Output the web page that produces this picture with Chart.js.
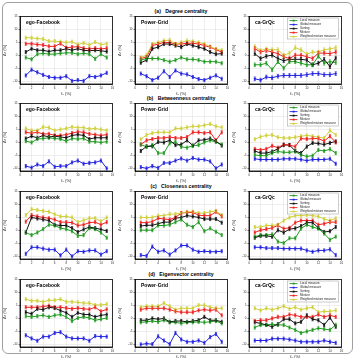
<!DOCTYPE html>
<html><head><meta charset="utf-8">
<script src="https://cdn.jsdelivr.net/npm/chart.js@4.4.1/dist/chart.umd.min.js"></script>
<style>
html,body{margin:0;padding:0;background:#fff}
body{width:357px;height:358px;position:relative;overflow:hidden;font-family:"Liberation Sans",Arial,sans-serif}
#frame{position:absolute;left:2px;top:2px;width:351px;height:352px;border:1px solid #a0a0a0;border-radius:6px;box-sizing:border-box}
.rt{position:absolute;width:200px;text-align:center;font-weight:bold;font-size:5.2px;color:#000;white-space:pre}
.pn{position:absolute;font-weight:bold;font-size:5px;color:#000;white-space:nowrap}
canvas{position:absolute}
</style></head><body>
<div id="frame"></div>
<script>
// ---------- shared labels / ticks ----------
const fValues = [1,2,3,4,5,6,7,8,9,10,11,12,13,14,15];
const xTicks = [0,2,4,6,8,10,12,14,16];
const yTicks = [-10,-5,0,5,10,15];
const seriesNames = ['Local measure','Global measure','Sorting','Mixture','Weighted mixture measure'];
const panelNames = ['ego-Facebook','Power-Grid','ca-GrQc'];
const rowTitles = ['(a)   Degree centrality','(b)   Betweenness centrality','(c)   Closeness centrality','(d)   Eigenvector centrality'];
const xTitle = 'f\u2080 (%)';
const yTitle = '\u0394r (%)';

// ---------- (a) Degree centrality ----------
const a1Local  = [-0.8,-1.5,0.5,0.8,0.5,0.5,0.8,1.0,1.0,0.5,0.8,0.5,-1.3,0.5,-0.8];
const a1Global = [-7.7,-5.5,-6.5,-7.5,-8.3,-8.6,-8.6,-8.0,-9.8,-9.5,-9.8,-8.0,-8.3,-7.7,-6.7];
const a1Sort   = [1.3,2.6,2.0,2.0,1.5,2.0,2.0,2.6,2.0,2.6,2.0,1.8,2.0,1.8,1.5];
const a1Mix    = [4.5,4.5,4.2,4.0,3.5,3.5,4.6,3.0,3.2,3.4,2.8,2.5,2.8,2.5,2.8];
const a1WMix   = [6.8,6.8,6.5,6.3,5.5,5.5,5.3,5.0,5.3,4.2,4.8,4.0,5.2,4.2,4.5];

const a2Local  = [-1.8,-1.2,-1.2,-1.2,-1.8,-2.4,-1.8,-0.8,-1.5,-1.5,-1.8,-2.4,-2.4,-2.4,-3.0];
const a2Global = [-7.0,-8.0,-9.5,-8.6,-6.1,-8.3,-5.8,-7.0,-7.3,-8.3,-9.1,-9.5,-8.6,-7.7,-9.0];
const a2Sort   = [-2.8,-1.8,2.6,3.2,4.4,4.4,3.8,3.2,4.4,3.8,3.2,2.6,1.3,0.5,0.7];
const a2Mix    = [-1.2,-0.6,3.8,4.4,5.0,5.0,4.4,4.4,4.7,4.7,4.4,3.8,3.2,2.2,1.3];
const a2WMix   = [-0.8,0.1,4.4,5.0,5.7,5.9,4.4,5.0,5.7,5.4,5.0,4.4,3.4,2.5,2.0];

const a3Local  = [-3.6,-3.6,-3.0,-5.5,-2.4,-4.9,-2.4,-2.4,-3.0,-3.6,-3.6,-0.3,-3.0,-2.4,-2.7];
const a3Global = [-9.0,-9.5,-8.3,-8.6,-8.0,-7.7,-7.7,-7.7,-7.7,-7.4,-7.0,-7.0,-7.4,-7.4,-7.0];
const a3Sort   = [0.7,-1.2,-0.3,0.1,-1.2,-2.0,-1.5,-1.5,-1.5,-1.8,-3.6,-3.0,-1.5,-4.3,-1.0];
const a3Mix    = [2.6,1.3,1.9,1.3,0.7,-0.5,-1.2,0.1,0.1,-0.5,-1.2,0.9,0.9,0.7,1.3];
const a3WMix   = [3.4,1.9,2.5,2.2,2.2,0.1,0.9,3.0,2.2,0.5,1.3,1.3,2.2,2.5,3.0];

// ---------- (b) Betweenness centrality ----------
const b1Local  = [0.5,0.0,1.3,1.5,1.8,1.5,1.3,0.5,1.5,1.3,1.5,0.3,0.3,0.0,0.3];
const b1Global = [-9.1,-9.7,-8.5,-9.1,-7.3,-9.4,-9.1,-9.1,-7.7,-7.0,-8.2,-7.9,-7.7,-7.0,-10.0];
const b1Sort   = [1.5,2.4,1.8,2.7,2.1,2.4,2.1,1.8,2.7,3.0,2.7,1.3,1.8,1.8,1.8];
const b1Mix    = [3.9,3.6,3.9,3.3,3.3,2.7,2.7,3.0,3.6,4.1,3.9,3.3,3.0,2.7,3.0];
const b1WMix   = [5.4,4.6,4.6,6.0,5.7,4.6,5.0,5.4,6.0,5.7,5.7,5.2,5.4,5.0,4.6];

const b2Local  = [-0.8,-1.7,-1.0,-4.1,-4.1,-0.3,0.2,-1.7,-2.0,-1.3,-1.0,0.0,0.8,0.2,-0.8];
const b2Global = [-9.5,-10.0,-9.1,-9.8,-7.9,-7.9,-7.0,-6.2,-7.0,-6.0,-6.6,-6.6,-7.3,-10.0,-8.5];
const b2Sort   = [-3.3,-1.5,-1.5,0.2,0.0,0.8,-1.0,-0.8,0.8,-1.2,0.8,1.0,1.5,0.5,-1.2];
const b2Mix    = [-0.8,0.8,1.3,1.7,1.7,2.1,1.7,1.7,2.1,3.9,3.9,3.6,3.9,0.8,3.9];
const b2WMix   = [1.2,2.9,3.6,3.9,3.9,3.9,5.4,5.4,5.8,6.2,6.2,6.6,7.1,6.2,5.8];

const b3Local  = [-4.8,-5.1,-5.1,-4.1,-3.5,-3.8,-3.8,-3.5,-4.8,-5.4,-5.1,-2.9,-3.3,-2.6,-4.1];
const b3Global = [-6.3,-6.6,-6.6,-6.6,-6.6,-6.3,-6.3,-6.3,-6.6,-7.0,-6.6,-6.6,-6.6,-6.3,-8.2];
const b3Sort   = [-3.3,-4.1,-4.1,-3.5,-2.5,-1.0,-1.0,-3.3,-4.1,-1.6,-0.2,-0.4,-0.8,-0.2,0.4];
const b3Mix    = [-2.5,-2.9,-2.5,-1.3,-2.0,-0.8,-1.0,-1.6,1.5,1.3,1.5,1.5,0.5,2.4,0.0];
const b3WMix   = [1.2,2.2,2.7,2.9,2.0,1.7,1.7,2.0,2.4,2.7,2.4,2.0,1.7,4.6,2.9];

// ---------- (c) Closeness centrality ----------
const c1Local  = [-0.8,-1.8,-0.8,0.5,2.2,1.9,0.9,0.5,-0.3,-2.1,-1.8,0.9,0.5,-0.8,-2.8];
const c1Global = [-9.0,-6.5,-6.5,-7.0,-7.4,-7.4,-9.6,-7.4,-10.0,-8.0,-8.2,-7.7,-7.7,-9.3,-8.0];
const c1Sort   = [-0.8,5.0,4.6,4.2,3.8,2.2,1.9,1.9,0.9,-0.6,0.4,1.3,0.9,0.4,-0.2];
const c1Mix    = [3.4,5.9,5.4,5.0,4.7,4.2,3.2,3.2,3.0,1.9,2.2,3.0,3.2,2.2,3.2];
const c1WMix   = [5.9,8.2,7.9,7.5,7.2,6.2,5.4,5.4,5.0,3.2,3.9,4.7,4.7,3.5,5.0];

const c2Local  = [0.1,0.1,0.1,1.9,1.9,2.2,3.2,4.2,2.2,1.3,3.2,-0.3,0.8,-0.5,-1.8];
const c2Global = [-9.5,-9.8,-6.2,-8.2,-7.7,-9.3,-7.7,-5.8,-5.8,-7.4,-8.2,-8.0,-8.2,-8.2,-8.0];
const c2Sort   = [1.7,2.0,2.0,2.6,3.2,3.2,4.7,5.0,5.7,5.4,5.0,4.4,4.4,4.4,3.0];
const c2Mix    = [3.0,3.0,3.4,4.7,4.4,4.2,5.0,6.7,6.9,6.9,5.9,5.7,5.7,7.2,5.4];
const c2WMix   = [5.0,5.0,5.0,5.7,5.7,6.3,6.3,6.7,7.2,7.2,6.7,6.7,7.2,7.5,5.9];

const c3Local  = [-2.4,-1.8,-1.8,-1.5,-4.3,-4.9,-3.0,-3.0,0.7,2.2,1.3,0.7,-1.2,-3.6,-2.4];
const c3Global = [-6.5,-6.5,-6.8,-6.8,-6.8,-7.0,-7.0,-7.0,-7.0,-7.7,-8.2,-7.7,-7.7,-7.3,-9.5];
const c3Sort   = [-2.8,-2.1,-2.1,-2.4,0.1,-0.8,0.5,0.8,1.7,3.0,3.0,1.0,-0.6,-0.3,1.3];
const c3Mix    = [-0.8,0.1,0.5,1.0,1.9,0.7,1.0,3.0,3.8,3.8,3.8,2.2,2.6,3.2,3.2];
const c3WMix   = [1.3,1.3,1.9,1.9,2.2,3.8,5.0,5.7,5.7,6.0,5.7,5.4,4.4,3.8,4.6];

// ---------- (d) Eigenvector centrality ----------
const d1Local  = [0.9,0.6,0.9,1.2,0.6,1.2,1.5,0.6,-1.0,0.2,0.6,0.2,-0.7,-0.3,0.2];
const d1Global = [-6.5,-7.7,-8.6,-7.0,-7.0,-5.6,-5.3,-7.0,-7.7,-7.7,-7.7,-8.6,-6.8,-7.0,-7.0];
const d1Sort   = [2.4,1.8,3.7,3.4,4.3,4.0,3.0,2.2,0.6,2.2,1.5,1.5,0.6,1.2,1.5];
const d1Mix    = [4.3,4.3,4.3,4.6,4.9,4.3,4.3,4.0,3.7,4.0,3.7,3.5,4.3,2.7,3.5];
const d1WMix   = [7.4,6.8,6.8,6.4,7.0,7.0,7.4,6.4,6.4,6.2,5.9,5.9,5.2,5.2,5.5];

const d2Local  = [-1.5,-1.3,-1.0,-1.3,-0.7,-1.5,-1.5,-1.9,-1.5,-1.5,-1.3,-1.5,-1.3,-1.0,-1.9];
const d2Global = [-10.0,-9.7,-9.9,-6.9,-8.5,-9.9,-5.6,-8.1,-9.0,-9.0,-8.5,-9.4,-7.2,-6.0,-9.0];
const d2Sort   = [-0.7,-0.7,0.0,-0.3,0.0,-1.3,-1.0,-1.0,-1.3,-1.0,-0.7,0.6,-0.7,-0.7,-1.3];
const d2Mix    = [3.4,3.9,3.9,3.9,3.9,3.4,2.7,2.4,2.4,2.4,3.1,3.4,3.1,3.4,1.2];
const d2WMix   = [4.3,4.7,4.7,4.7,5.9,4.7,3.4,3.9,3.9,3.9,5.1,5.1,4.3,3.9,3.9];

const d3Local  = [-3.5,-2.5,-2.5,-2.2,-2.5,-2.5,-3.5,-4.4,-5.6,-5.0,-4.4,-3.8,-4.1,-4.4,-2.5];
const d3Global = [-8.5,-8.5,-8.5,-7.8,-7.8,-7.8,-8.1,-8.5,-9.0,-9.0,-9.0,-9.0,-8.5,-9.0,-9.4];
const d3Sort   = [-1.5,-1.9,-2.5,-3.2,-2.2,-0.3,-0.3,-1.9,-1.3,1.2,-0.3,-0.7,-2.5,0.3,-3.2];
const d3Mix    = [-1.0,-0.7,-0.7,0.0,0.6,0.6,1.5,1.2,0.6,0.6,0.6,1.5,0.6,1.2,0.6];
const d3WMix   = [3.9,3.1,3.9,3.4,3.9,4.7,3.7,4.3,3.4,3.9,4.3,2.4,2.7,2.7,3.1];

// error-bar half widths (Δr units) per panel
const errA = [0.6,0.6,0.7];
const errB = [0.6,0.6,0.6];
const errC = [0.6,0.6,0.6];
const errD = [0.6,0.6,0.6];

// ---------- assembly ----------
const panels = [
  [[a1Local,a1Global,a1Sort,a1Mix,a1WMix],[a2Local,a2Global,a2Sort,a2Mix,a2WMix],[a3Local,a3Global,a3Sort,a3Mix,a3WMix]],
  [[b1Local,b1Global,b1Sort,b1Mix,b1WMix],[b2Local,b2Global,b2Sort,b2Mix,b2WMix],[b3Local,b3Global,b3Sort,b3Mix,b3WMix]],
  [[c1Local,c1Global,c1Sort,c1Mix,c1WMix],[c2Local,c2Global,c2Sort,c2Mix,c2WMix],[c3Local,c3Global,c3Sort,c3Mix,c3WMix]],
  [[d1Local,d1Global,d1Sort,d1Mix,d1WMix],[d2Local,d2Global,d2Sort,d2Mix,d2WMix],[d3Local,d3Global,d3Sort,d3Mix,d3WMix]]
];
const errs = [errA, errB, errC, errD];

const colors = ['#1f9a1f','#2020e0','#111111','#ee2020','#cfcf3a'];
const drawOrder = [4,3,2,0,1];
const colLeft = [20, 135, 249];
const plotW = 94;
const rowTop = [15, 102, 190, 278];
const plotH = 69;
const titleY = [11, 98.5, 186.5, 274.5];
const padL = 18, padT = 3, padR = 3, padB = 12;

const errPlugin = {
  id:'errbars',
  afterDatasetsDraw(chart){
    const ctx = chart.ctx, ys = chart.scales.y, e = chart.options.plugins.errbars.size;
    const a = chart.chartArea;
    ctx.save();
    ctx.beginPath(); ctx.rect(a.left, a.top, a.right-a.left, a.bottom-a.top); ctx.clip();
    chart.data.datasets.forEach((ds,i)=>{
      const meta = chart.getDatasetMeta(i);
      ctx.strokeStyle = ds.borderColor; ctx.lineWidth = 0.7;
      meta.data.forEach((pt,j)=>{
        const v = ds.data[j].y;
        const y1 = ys.getPixelForValue(v - e), y2 = ys.getPixelForValue(v + e);
        ctx.beginPath();
        ctx.moveTo(pt.x, y1); ctx.lineTo(pt.x, y2);
        ctx.moveTo(pt.x-1.1, y1); ctx.lineTo(pt.x+1.1, y1);
        ctx.moveTo(pt.x-1.1, y2); ctx.lineTo(pt.x+1.1, y2);
        ctx.stroke();
      });
    });
    ctx.restore();
  }
};
const framePlugin = {
  id:'frame',
  afterDraw(chart){
    const a = chart.chartArea, ctx = chart.ctx;
    ctx.save(); ctx.strokeStyle = '#000'; ctx.lineWidth = 0.8;
    ctx.strokeRect(a.left, a.top, a.right-a.left, a.bottom-a.top);
    ctx.restore();
  }
};
const legendPlugin = {
  id:'boxlegend',
  afterDraw(chart){
    if(!chart.options.plugins.boxlegend.show) return;
    const a = chart.chartArea, ctx = chart.ctx;
    const bx = a.right - 54, by = a.top + 1.5, bw = 51, bh = 21;
    ctx.save();
    ctx.fillStyle = 'rgba(255,255,255,0.9)'; ctx.fillRect(bx,by,bw,bh);
    ctx.strokeStyle = '#999'; ctx.lineWidth = 0.5; ctx.strokeRect(bx,by,bw,bh);
    ctx.font = '3px "Liberation Sans", Arial, sans-serif';
    ctx.textBaseline = 'middle';
    seriesNames.forEach((name,i)=>{
      const yy = by + 2.6 + i*4;
      ctx.strokeStyle = colors[i]; ctx.lineWidth = 0.9;
      ctx.beginPath(); ctx.moveTo(bx+2, yy); ctx.lineTo(bx+10, yy); ctx.stroke();
      ctx.fillStyle = colors[i]; ctx.fillRect(bx+5.2, yy-0.9, 1.8, 1.8);
      ctx.fillStyle = '#222'; ctx.fillText(name, bx+12.5, yy);
    });
    ctx.restore();
  }
};

rowTitles.forEach((t,r)=>{
  const d = document.createElement('div');
  d.className = 'rt'; d.textContent = t;
  d.style.left = (181 - 100) + 'px'; d.style.top = (titleY[r] - 3.5) + 'px';
  document.body.appendChild(d);
});

for (let r=0; r<4; r++) {
  for (let c=0; c<3; c++) {
    const cv = document.createElement('canvas');
    cv.width = plotW + padL + padR; cv.height = plotH + padT + padB;
    cv.style.left = (colLeft[c] - padL) + 'px';
    cv.style.top = (rowTop[r] - padT) + 'px';
    document.body.appendChild(cv);
    const vals = panels[r][c];
    const datasets = drawOrder.map(i => ({
      label: seriesNames[i],
      data: fValues.map((f,j)=>({x:f, y:vals[i][j]})),
      borderColor: colors[i], backgroundColor: colors[i],
      borderWidth: 1.0, pointRadius: 1.0, pointStyle: 'rect', pointBorderWidth: 0.5,
      tension: 0, fill: false
    }));
    new Chart(cv, {
      type: 'line',
      data: { datasets },
      options: {
        responsive: false, animation: false, devicePixelRatio: 1,
        layout: { padding: { top: padT, right: padR, left: 0, bottom: 0 } },
        plugins: { legend: { display: false }, tooltip: { enabled: false },
                   errbars: { size: errs[r][c] }, boxlegend: { show: c === 2 } },
        scales: {
          x: {
            type: 'linear', min: 0, max: 16,
            afterBuildTicks: s => { s.ticks = xTicks.map(v => ({ value: v })); },
            afterFit: s => { s.height = padB; },
            ticks: { font: { size: 3, family: 'Liberation Sans' }, color: '#333', padding: 0.5, maxRotation: 0, autoSkip: false },
            grid: { color: '#dcdcdc', lineWidth: 0.5, tickLength: 1.5, tickColor: '#000' },
            border: { color: '#000', width: 0.8 },
            title: { display: true, text: xTitle, font: { size: 4, family: 'Liberation Sans' }, color: '#222', padding: { top: 0.5, bottom: 0 } }
          },
          y: {
            min: -11, max: 15,
            afterBuildTicks: s => { s.ticks = yTicks.map(v => ({ value: v })); },
            afterFit: s => { s.width = padL; },
            ticks: { font: { size: 3, family: 'Liberation Sans' }, color: '#333', padding: 1, autoSkip: false },
            grid: { color: '#dcdcdc', lineWidth: 0.5, tickLength: 1.5, tickColor: '#000' },
            border: { color: '#000', width: 0.8 },
            title: { display: true, text: yTitle, font: { size: 4, family: 'Liberation Sans' }, color: '#222', padding: 0 }
          }
        }
      },
      plugins: [errPlugin, framePlugin, legendPlugin]
    });
    const p = document.createElement('div');
    p.className = 'pn'; p.textContent = panelNames[c];
    p.style.left = (colLeft[c] + 6) + 'px';
    p.style.top = (rowTop[r] + 3.5) + 'px';
    document.body.appendChild(p);
  }
}
</script>
</body></html>
